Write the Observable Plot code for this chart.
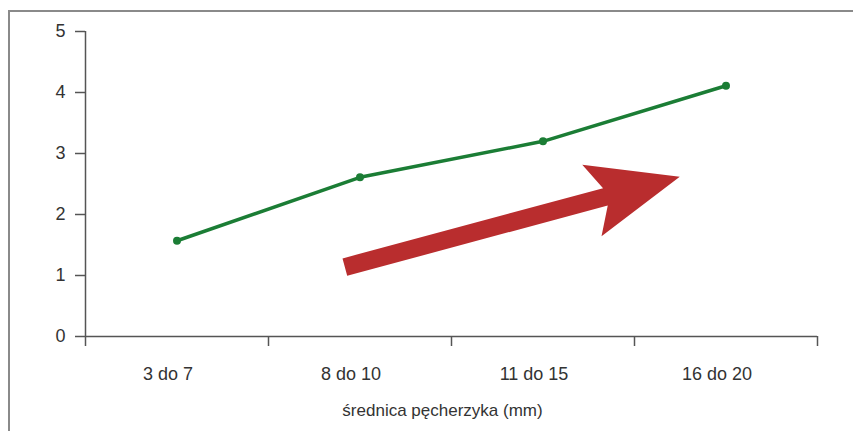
<!DOCTYPE html>
<html><head><meta charset="utf-8">
<script src="https://cdn.jsdelivr.net/npm/d3@7"></script>
<script src="https://cdn.jsdelivr.net/npm/@observablehq/plot@0.6"></script>
<style>
body{margin:0;background:#fff;}
#wrap{position:relative;width:853px;height:431px;overflow:hidden;}
#frame{position:absolute;left:8px;top:10px;width:900px;height:500px;border-left:2px solid #8a8a8a;border-top:2px solid #8a8a8a;pointer-events:none;}
</style></head><body><div id="wrap"><div id="frame"></div></div>
<script>
const categories = ["3 do 7", "8 do 10", "11 do 15", "16 do 20"];
const values = [1.57, 2.61, 3.2, 4.11];
const yTicks = [0, 1, 2, 3, 4, 5];
const xLabel = "średnica pęcherzyka (mm)";
const arrowTail = {x: 1.42, y: 1.13};
const arrowTip = {x: 3.25, y: 2.61};

const green = "#1b7d35";
const red = "#b92d2e";
const axisColor = "#555";
const fontFamily = "'Liberation Sans Narrow', 'Liberation Sans', Arial, sans-serif";

const data = categories.map((c, i) => ({pos: i + 0.5, cat: c, v: values[i]}));

const plot = Plot.plot({
  width: 853, height: 431,
  marginLeft: 85, marginRight: 36, marginTop: 31, marginBottom: 95,
  style: {fontFamily, fontSize: "18px", color: "#333", background: "transparent", overflow: "visible"},
  x: {domain: [0, categories.length]},
  y: {domain: [0, 5]},
  marks: [
    Plot.ruleY([0], {stroke: axisColor, strokeWidth: 1.5}),
    Plot.ruleX([0], {y1: 0, y2: 5, stroke: axisColor, strokeWidth: 1.5}),
    Plot.axisY({ticks: yTicks, tickSize: 10, tickPadding: 10, tickFormat: d => String(d), label: null, stroke: axisColor, strokeWidth: 1.5, fill: "#333"}),
    Plot.axisX({ticks: d3.range(categories.length + 1), tickSize: 10, tickFormat: () => "", label: null, stroke: axisColor, strokeWidth: 1.5}),
    Plot.axisX({ticks: data.map(d => d.pos), tickSize: 0, tickPadding: 31, dx: -9, tickFormat: p => categories[Math.floor(p)], label: null, fill: "#333"}),
    Plot.text([xLabel], {frameAnchor: "bottom", dy: 74, dx: -9, lineAnchor: "middle", fontSize: 17, fill: "#333"}),
    Plot.line(data, {x: "pos", y: "v", stroke: green, strokeWidth: 3.5}),
    Plot.dot(data, {x: "pos", y: "v", fill: green, r: 4})
  ]
});
document.getElementById("wrap").appendChild(plot);

// Annotation arrow, positioned through the plot's own scales
const sx = plot.scale("x"), sy = plot.scale("y");
const T = [sx.apply(arrowTail.x), sy.apply(arrowTail.y)];
const P = [sx.apply(arrowTip.x), sy.apply(arrowTip.y)];
const len = Math.hypot(P[0] - T[0], P[1] - T[1]);
const d = [(P[0] - T[0]) / len, (P[1] - T[1]) / len];
const n = [-d[1], d[0]];
const w = 9, headLen = 77, sweep = 14, headHalf = 37;
const B = [P[0] - d[0] * headLen, P[1] - d[1] * headLen];
const pt = (o, a, b) => [o[0] + d[0] * a + n[0] * b, o[1] + d[1] * a + n[1] * b];
const poly = [
  pt(T, 0, w), pt(B, 0, w), pt(B, -sweep, headHalf), P,
  pt(B, -sweep, -headHalf), pt(B, 0, -w), pt(T, 0, -w)
];
d3.select(plot).append("path")
  .attr("d", "M" + poly.map(p => p.join(",")).join("L") + "Z")
  .attr("fill", red);
</script>
</body></html>
